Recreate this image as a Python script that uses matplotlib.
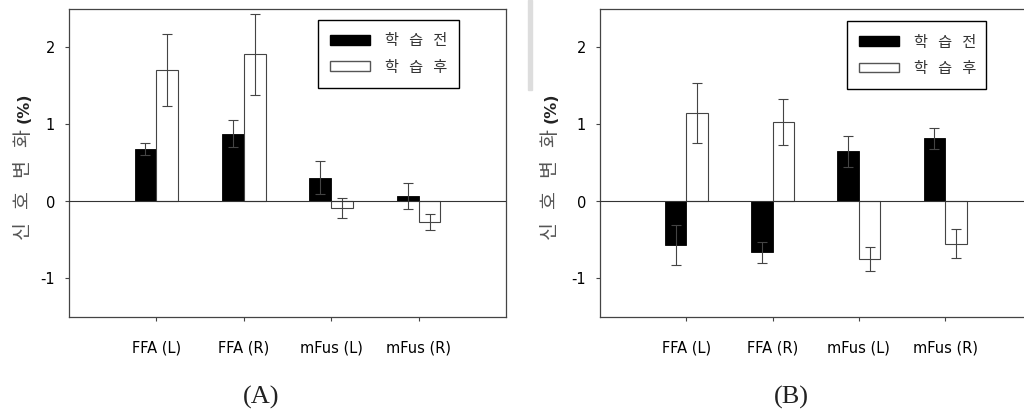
import numpy as np
import matplotlib
matplotlib.use('Agg')
import matplotlib.pyplot as plt
from matplotlib.patches import Patch, Rectangle

plt.rcParams['font.family'] = ['DejaVu Sans', 'Noto Sans CJK KR']

categories = ['FFA (L)', 'FFA (R)', 'mFus (L)', 'mFus (R)']
legend_labels = ['학   습   전', '학   습   후']

# (A)
before_a = [0.68, 0.88, 0.31, 0.07]
before_a_err = [0.075, 0.175, 0.21, 0.17]
after_a = [1.71, 1.91, -0.09, -0.27]
after_a_err = [0.47, 0.53, 0.13, 0.105]

# (B)
before_b = [-0.57, -0.66, 0.65, 0.82]
before_b_err = [0.26, 0.14, 0.20, 0.14]
after_b = [1.15, 1.03, -0.75, -0.55]
after_b_err = [0.39, 0.30, 0.155, 0.19]

fig = plt.figure(figsize=(10.24, 4.15), dpi=100)

# gray scan artifact between the two panels
fig.patches.append(Rectangle((528 / 1024, 1 - 90 / 415), 4 / 1024, 90 / 415,
                             transform=fig.transFigure, color='#dddddd', zorder=0))


def draw_panel(ax, before, before_err, after, after_err, leg_box):
    x = np.arange(1, len(categories) + 1)
    w = 0.25
    ekw = dict(ecolor='#444444', elinewidth=0.8, capsize=3.5, capthick=0.8)
    ax.bar(x - w / 2, before, w, color='black', edgecolor='black', linewidth=0.6,
           yerr=before_err, error_kw=ekw, zorder=2)
    ax.bar(x + w / 2, after, w, color='white', edgecolor='#444444', linewidth=0.8,
           yerr=after_err, error_kw=ekw, zorder=2)
    ax.axhline(0, color='#333333', linewidth=0.8, zorder=3)
    ax.set_xlim(0, 5)
    ax.set_ylim(-1.5, 2.5)
    ax.set_yticks([-1, 0, 1, 2])
    ax.set_yticklabels(['-1', '0', '1', '2'])
    ax.set_xticks(x)
    ax.set_xticklabels(categories)
    ax.tick_params(axis='x', length=3, pad=14, labelsize=10.5, color='#444444')
    ax.tick_params(axis='y', length=3, pad=7, labelsize=10.5, color='#444444')
    for s in ax.spines.values():
        s.set_color('#444444')
        s.set_linewidth(0.9)
    handles = [Patch(facecolor='black', edgecolor='black'),
               Patch(facecolor='white', edgecolor='#555555')]
    leg = ax.legend(handles, legend_labels, loc='lower left', bbox_to_anchor=leg_box,
                    mode='expand', fancybox=False, framealpha=1, edgecolor='black',
                    handlelength=2.6, handleheight=0.6, handletextpad=1.0,
                    borderpad=0.8, labelspacing=0.6, borderaxespad=0,
                    prop={'family': ['Noto Sans CJK KR'], 'size': 11, 'weight': 'light'})
    leg.get_frame().set_linewidth(1.0)
    for t in leg.get_texts():
        t.set_color('#333333')


ax_a = fig.add_axes([69 / 1024, 98 / 415, 437 / 1024, 308 / 415])
draw_panel(ax_a, before_a, before_a_err, after_a, after_a_err, (0.570, 0.744, 0.322, 0.217))

ax_b = fig.add_axes([600 / 1024, 98 / 415, 431.5 / 1024, 308 / 415])
draw_panel(ax_b, before_b, before_b_err, after_b, after_b_err, (0.572, 0.740, 0.322, 0.215))

# y labels: korean part gray, (%) bold
for xl in (24, 551):
    fig.text(xl / 1024, 1 - 185 / 415, '신   호   변   화', rotation=90, ha='center', va='center',
             color='#555555', fontsize=14, family=['Noto Sans CJK KR'], weight='light')
    fig.text(xl / 1024, 1 - 108 / 415, '(%)', rotation=90, ha='center', va='center',
             color='#222222', fontsize=11.5, weight='bold')

fig.text(261 / 1024, 1 - 397 / 415, '(A)', ha='center', va='center',
         fontsize=19, family='Liberation Serif', color='#222222')
fig.text(791 / 1024, 1 - 397 / 415, '(B)', ha='center', va='center',
         fontsize=19, family='Liberation Serif', color='#222222')

fig.savefig('out.png', dpi=100)
